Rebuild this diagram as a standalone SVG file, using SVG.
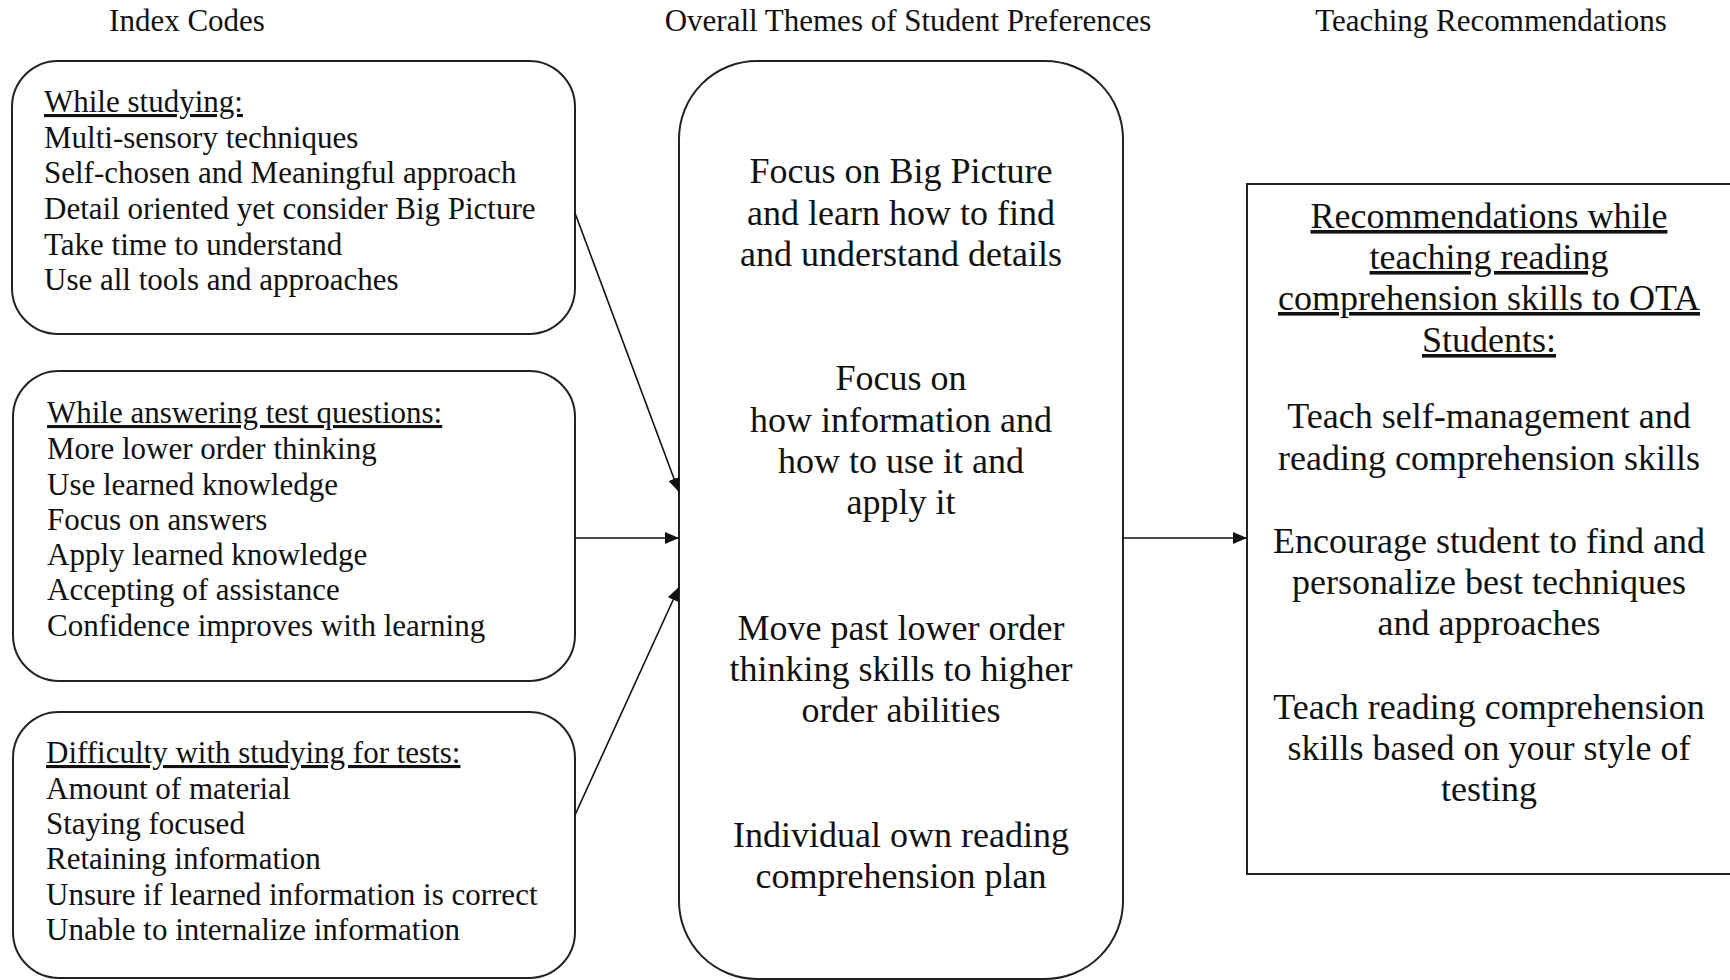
<svg xmlns="http://www.w3.org/2000/svg" width="1730" height="980" viewBox="0 0 1730 980">
<style>
text{font-family:"Liberation Serif","Times New Roman",serif;fill:#111}
.hdr{font-size:31px;text-anchor:middle}
.sm{font-size:31px}
.lg{font-size:36px;text-anchor:middle}
.u{text-decoration:underline}
.box{fill:#fff;stroke:#222;stroke-width:2}
.con{stroke:#111;stroke-width:1.6;fill:none}
</style>
<defs>
<marker id="ah" markerUnits="userSpaceOnUse" markerWidth="16" markerHeight="12" refX="14" refY="6" orient="auto">
<path d="M0,0 L14,6 L0,12 Z" fill="#111"/>
</marker>
</defs>
<rect width="1730" height="980" fill="#fff"/>
<g id="headers">
<text class="hdr" x="187" y="31">Index Codes</text>
<text class="hdr" x="908" y="31">Overall Themes of Student Preferences</text>
<text class="hdr" x="1491" y="31">Teaching Recommendations</text>
</g>
<g id="node-studying">
<rect class="box" x="12" y="61" width="563" height="273" rx="46" ry="46"/>
<text class="sm" x="44" y="112"><tspan class="u">While studying:</tspan></text>
<text class="sm" x="44" y="148">Multi-sensory techniques</text>
<text class="sm" x="44" y="183">Self-chosen and Meaningful approach</text>
<text class="sm" x="44" y="219">Detail oriented yet consider Big Picture</text>
<text class="sm" x="44" y="255">Take time to understand</text>
<text class="sm" x="44" y="290">Use all tools and approaches</text>
</g>
<g id="node-answering">
<rect class="box" x="13" y="371" width="562" height="310" rx="46" ry="46"/>
<text class="sm" x="47" y="423"><tspan class="u">While answering test questions:</tspan></text>
<text class="sm" x="47" y="459">More lower order thinking</text>
<text class="sm" x="47" y="495">Use learned knowledge</text>
<text class="sm" x="47" y="530">Focus on answers</text>
<text class="sm" x="47" y="565">Apply learned knowledge</text>
<text class="sm" x="47" y="600">Accepting of assistance</text>
<text class="sm" x="47" y="636">Confidence improves with learning</text>
</g>
<g id="node-difficulty">
<rect class="box" x="13" y="712" width="562" height="266" rx="46" ry="46"/>
<text class="sm" x="46" y="763"><tspan class="u">Difficulty with studying for tests:</tspan></text>
<text class="sm" x="46" y="799">Amount of material</text>
<text class="sm" x="46" y="834">Staying focused</text>
<text class="sm" x="46" y="869">Retaining information</text>
<text class="sm" x="46" y="905">Unsure if learned information is correct</text>
<text class="sm" x="46" y="940">Unable to internalize information</text>
</g>
<g id="node-themes">
<rect class="box" x="679" y="61" width="444" height="918" rx="78" ry="78"/>
<text class="lg" x="901" y="183">Focus on Big Picture</text>
<text class="lg" x="901" y="225">and learn how to find</text>
<text class="lg" x="901" y="266">and understand details</text>
<text class="lg" x="901" y="390">Focus on</text>
<text class="lg" x="901" y="432">how information and</text>
<text class="lg" x="901" y="473">how to use it and</text>
<text class="lg" x="901" y="514">apply it</text>
<text class="lg" x="901" y="640">Move past lower order</text>
<text class="lg" x="901" y="681">thinking skills to higher</text>
<text class="lg" x="901" y="722">order abilities</text>
<text class="lg" x="901" y="847">Individual own reading</text>
<text class="lg" x="901" y="888">comprehension plan</text>
</g>
<g id="node-recommendations">
<rect class="box" x="1247" y="184" width="500" height="690"/>
<text class="lg" x="1489" y="228"><tspan class="u">Recommendations while</tspan></text>
<text class="lg" x="1489" y="269"><tspan class="u">teaching reading</tspan></text>
<text class="lg" x="1489" y="310"><tspan class="u">comprehension skills to OTA</tspan></text>
<text class="lg" x="1489" y="352"><tspan class="u">Students:</tspan></text>
<text class="lg" x="1489" y="428">Teach self-management and</text>
<text class="lg" x="1489" y="470">reading comprehension skills</text>
<text class="lg" x="1489" y="553">Encourage student to find and</text>
<text class="lg" x="1489" y="594">personalize best techniques</text>
<text class="lg" x="1489" y="635">and approaches</text>
<text class="lg" x="1489" y="719">Teach reading comprehension</text>
<text class="lg" x="1489" y="760">skills based on your style of</text>
<text class="lg" x="1489" y="801">testing</text>
</g>
<g id="connectors">
<line class="con" x1="575" y1="213" x2="679" y2="492" marker-end="url(#ah)"/>
<line class="con" x1="575" y1="538" x2="679" y2="538" marker-end="url(#ah)"/>
<line class="con" x1="575" y1="815" x2="679" y2="587" marker-end="url(#ah)"/>
<line class="con" x1="1123" y1="538" x2="1247" y2="538" marker-end="url(#ah)"/>
</g>
</svg>
